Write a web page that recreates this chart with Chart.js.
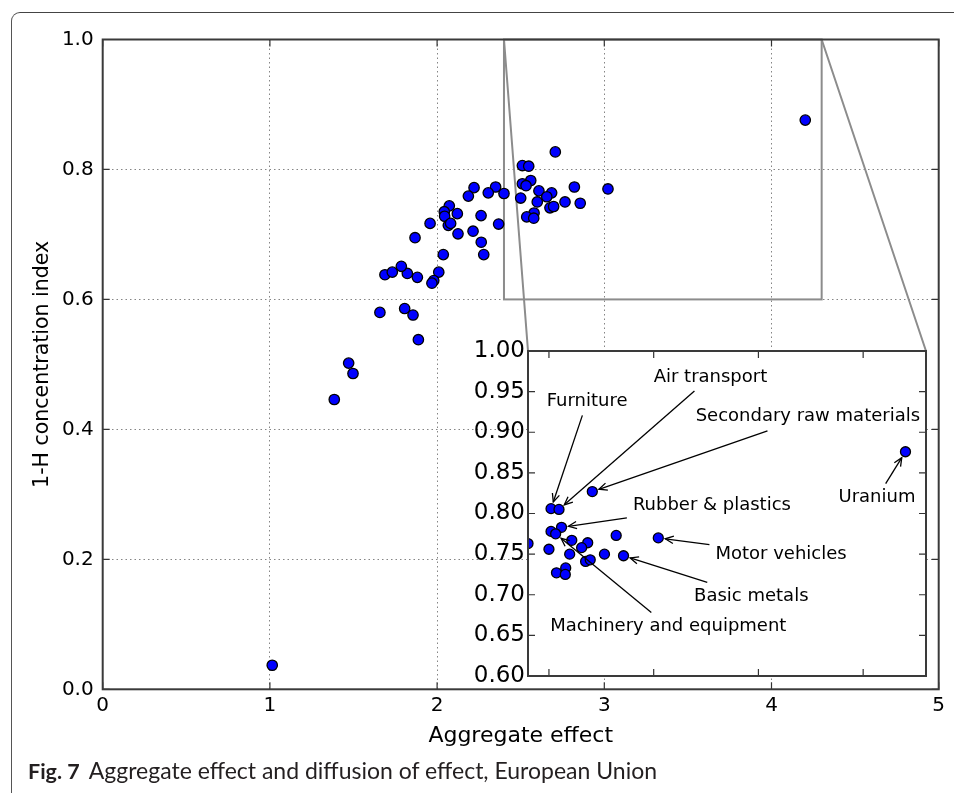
<!DOCTYPE html>
<html><head><meta charset="utf-8">
<script src="https://cdn.jsdelivr.net/npm/chart.js@4.4.1/dist/chart.umd.min.js"></script>
<style>
html,body{margin:0;padding:0;background:#fff;}
#wrap{position:relative;width:954px;height:793px;overflow:hidden;background:#fff;}
#frame{position:absolute;left:11px;top:12px;width:1000px;height:900px;border-left:1.5px solid #555;border-top:1.5px solid #444;border-top-left-radius:9px;}
#main{position:absolute;left:0;top:0;}
#inset{position:absolute;left:430px;top:330px;}
#caption{position:absolute;left:28px;top:756px;font-family:Lato,"DejaVu Sans",sans-serif;font-size:23px;color:#231f20;white-space:nowrap;}
#caption b{font-weight:bold;font-size:21.5px;margin-right:9px;}
</style></head>
<body>
<div id="wrap">
  <div id="frame"></div>
  <canvas id="main" width="954" height="793"></canvas>
  <canvas id="inset" width="520" height="370"></canvas>
  <div id="caption"><b>Fig. 7</b>Aggregate effect and diffusion of effect, European Union</div>
</div>
<script>
// ---------- data ----------
const aggregateEffect = [
  2.707, 2.510, 2.548, 2.560, 2.510, 2.532, 2.609, 2.685, 2.821, 3.022,
  2.656, 2.500, 2.599, 2.765, 2.856, 2.675, 2.697, 2.580, 2.536, 2.578,
  2.400, 2.350, 2.306, 2.221, 2.187, 2.368, 2.263, 2.215, 2.264, 2.279,
  2.073, 2.043, 2.045, 2.121, 2.067, 2.081, 2.125, 1.958, 1.868, 2.037,
  2.010, 1.980, 1.969, 1.882, 1.822, 1.786, 1.806, 1.856, 1.688, 1.732,
  1.658, 1.888, 1.471, 1.497, 1.385, 1.014, 4.202
];
const concentration = [
  0.827, 0.806, 0.805, 0.783, 0.778, 0.775, 0.767, 0.764, 0.773, 0.770,
  0.758, 0.756, 0.750, 0.750, 0.748, 0.741, 0.743, 0.733, 0.727, 0.725,
  0.763, 0.773, 0.764, 0.772, 0.759, 0.716, 0.729, 0.705, 0.688, 0.669,
  0.744, 0.735, 0.728, 0.732, 0.714, 0.717, 0.701, 0.717, 0.695, 0.669,
  0.642, 0.629, 0.625, 0.634, 0.640, 0.651, 0.586, 0.576, 0.638, 0.642,
  0.580, 0.538, 0.502, 0.486, 0.446, 0.037, 0.876
];
const mainXTicks = [0, 1, 2, 3, 4, 5];
const mainYTicks = [0, 0.2, 0.4, 0.6, 0.8, 1.0];
const insetXTicks = [2.5, 3.0, 3.5, 4.0];
const insetYTicks = [0.60, 0.65, 0.70, 0.75, 0.80, 0.85, 0.90, 0.95, 1.00];
const zoomX = [2.4, 4.3];
const zoomY = [0.6, 1.0];
const annLabels = ['Furniture', 'Air transport', 'Secondary raw materials', 'Rubber & plastics',
                   'Motor vehicles', 'Basic metals', 'Machinery and equipment', 'Uranium'];
const annTextX = [2.682, 3.271, 3.736, 3.278, 3.608, 3.466, 3.070, 4.066];
const annTextY = [0.938, 0.968, 0.919, 0.810, 0.750, 0.698, 0.661, 0.8195];
const annTarget = [1, 2, 0, 3, 9, 14, 5, 56];

const points = aggregateEffect.map((x, i) => ({x: x, y: concentration[i]}));
const FONT = "'DejaVu Sans', sans-serif";

function setTicks(arr){ return function(scale){ scale.ticks = arr.map(v => ({value: v})); }; }

function frameAndTicks(xT, yT, len){
  return {
    id: 'frameTicks',
    afterDatasetsDraw(chart){
      const {ctx, chartArea: a, scales: {x, y}} = chart;
      ctx.save();
      ctx.strokeStyle = '#333';
      ctx.lineWidth = 1.2;
      ctx.beginPath();
      xT.forEach(v => { const p = x.getPixelForValue(v);
        ctx.moveTo(p, a.bottom); ctx.lineTo(p, a.bottom - len);
        ctx.moveTo(p, a.top); ctx.lineTo(p, a.top + len); });
      yT.forEach(v => { const p = y.getPixelForValue(v);
        ctx.moveTo(a.left, p); ctx.lineTo(a.left + len, p);
        ctx.moveTo(a.right, p); ctx.lineTo(a.right - len, p); });
      ctx.stroke();
      ctx.lineWidth = 2;
      ctx.strokeStyle = '#3a3a3a';
      ctx.strokeRect(a.left, a.top, a.right - a.left, a.bottom - a.top);
      ctx.restore();
    }
  };
}

// ---------- inset ----------
const insetCanvas = document.getElementById('inset');
const insetLeft = 430, insetTop = 330;

function drawArrow(ctx, x0, y0, x1, y1){
  ctx.beginPath(); ctx.moveTo(x0, y0); ctx.lineTo(x1, y1); ctx.stroke();
  const a = Math.atan2(y1 - y0, x1 - x0), L = 9, w = 0.42;
  ctx.beginPath();
  ctx.moveTo(x1 - L * Math.cos(a - w), y1 - L * Math.sin(a - w));
  ctx.lineTo(x1, y1);
  ctx.lineTo(x1 - L * Math.cos(a + w), y1 - L * Math.sin(a + w));
  ctx.stroke();
}

const insetPlugin = {
  id: 'insetExtras',
  beforeDraw(chart){
    const {ctx, chartArea: a} = chart;
    ctx.save(); ctx.fillStyle = '#fff';
    ctx.fillRect(a.left, a.top, a.right - a.left, a.bottom - a.top);
    ctx.restore();
  },
  afterDatasetsDraw(chart){
    const {ctx, scales: {x, y}} = chart;
    ctx.save();
    ctx.font = '18px ' + FONT;
    ctx.fillStyle = '#000';
    ctx.strokeStyle = '#000';
    ctx.lineWidth = 1.3;
    ctx.textAlign = 'center';
    ctx.textBaseline = 'middle';
    annLabels.forEach((txt, i) => {
      const cx = x.getPixelForValue(annTextX[i]), cy = y.getPixelForValue(annTextY[i]);
      ctx.fillText(txt, cx, cy);
      const k = annTarget[i];
      const px = x.getPixelForValue(aggregateEffect[k]), py = y.getPixelForValue(concentration[k]);
      const dx = px - cx, dy = py - cy, d = Math.hypot(dx, dy);
      const hw = ctx.measureText(txt).width / 2 + 6, hh = 14;
      const t = Math.min(Math.abs(dx) > 0 ? hw / Math.abs(dx) : 1e9, Math.abs(dy) > 0 ? hh / Math.abs(dy) : 1e9);
      const sx = cx + dx * t, sy = cy + dy * t;
      const ex = px - dx / d * 7, ey = py - dy / d * 7;
      drawArrow(ctx, sx, sy, ex, ey);
    });
    ctx.restore();
  }
};

const insetChart = new Chart(insetCanvas, {
  type: 'scatter',
  data: {datasets: [{data: points, backgroundColor: '#0000ff', borderColor: '#000', borderWidth: 1.3, pointRadius: 5, clip: 0}]},
  options: {
    responsive: false, animation: false, events: [],
    layout: {padding: {left: 0, top: 21, right: 24, bottom: 24}},
    plugins: {legend: {display: false}, tooltip: {enabled: false}},
    scales: {
      x: {type: 'linear', display: false, min: zoomX[0], max: zoomX[1], afterBuildTicks: setTicks(insetXTicks)},
      y: {type: 'linear', min: zoomY[0], max: zoomY[1],
          afterBuildTicks: setTicks(insetYTicks),
          afterFit(s){ s.width = 98; },
          grid: {display: false, drawTicks: false},
          border: {display: false},
          ticks: {padding: 3, color: '#000', font: {family: FONT, size: 23},
                  callback: v => Number(v).toFixed(2)}}
    }
  },
  plugins: [insetPlugin, frameAndTicks(insetXTicks, insetYTicks, 7)]
});

// ---------- main ----------
const mainPlugin = {
  id: 'zoomBox',
  beforeDatasetsDraw(chart){
    const {ctx, scales: {x, y}} = chart;
    const ia = insetChart.chartArea;
    const x0 = x.getPixelForValue(zoomX[0]), x1 = x.getPixelForValue(zoomX[1]);
    const y0 = y.getPixelForValue(zoomY[1]), y1 = y.getPixelForValue(zoomY[0]);
    ctx.save();
    ctx.strokeStyle = '#8c8c8c';
    ctx.lineWidth = 2;
    ctx.strokeRect(x0, y0, x1 - x0, y1 - y0);
    ctx.beginPath();
    ctx.moveTo(x0, y0); ctx.lineTo(insetLeft + ia.left, insetTop + ia.top);
    ctx.moveTo(x1, y0); ctx.lineTo(insetLeft + ia.right, insetTop + ia.top);
    ctx.stroke();
    ctx.restore();
  }
};

new Chart(document.getElementById('main'), {
  type: 'scatter',
  data: {datasets: [{data: points, backgroundColor: '#0000ff', borderColor: '#000', borderWidth: 1.3, pointRadius: 5.2}]},
  options: {
    responsive: false, animation: false, events: [],
    layout: {padding: {left: 0, top: 39.5, right: 15.3, bottom: 38}},
    plugins: {legend: {display: false}, tooltip: {enabled: false}},
    scales: {
      x: {type: 'linear', min: 0, max: 5,
          afterBuildTicks: setTicks(mainXTicks),
          afterFit(s){ s.height = 65.7; },
          grid: {color: '#858585', lineWidth: 1, drawTicks: false},
          border: {display: false, dash: [1.5, 3]},
          ticks: {padding: 4, color: '#000', font: {family: FONT, size: 20}, callback: v => String(v)},
          title: {display: true, text: 'Aggregate effect', color: '#000', font: {family: FONT, size: 22}, padding: {top: 0, bottom: 6}}},
      y: {type: 'linear', min: 0, max: 1,
          afterBuildTicks: setTicks(mainYTicks),
          afterFit(s){ s.width = 102.7; },
          grid: {color: '#858585', lineWidth: 1, drawTicks: false},
          border: {display: false, dash: [1.5, 3]},
          ticks: {padding: 9, color: '#000', font: {family: FONT, size: 20}, callback: v => Number(v).toFixed(1)},
          title: {display: true, text: '1-H concentration index', color: '#000', font: {family: FONT, size: 20.5}, padding: {top: 30.5, bottom: 0}}}
    }
  },
  plugins: [mainPlugin, frameAndTicks(mainXTicks, mainYTicks, 7)]
});
</script>
</body></html>
